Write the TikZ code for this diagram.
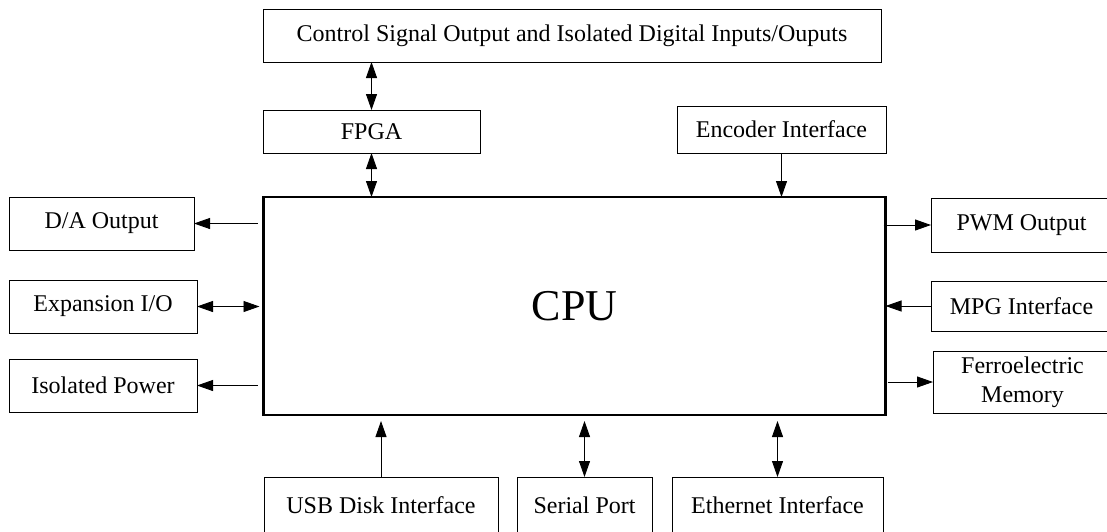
\documentclass[tikz,border=0pt]{standalone}
\usepackage{fontspec}
\setmainfont{Liberation Serif}
\usetikzlibrary{arrows.meta}
\begin{document}
\begin{tikzpicture}[x=1pt,y=-1pt,
  box/.style={draw, line width=1pt, rectangle, inner sep=0pt, outer sep=0pt,
    font=\fontsize{24}{29}\selectfont, align=center},
  cpubox/.style={draw, line width=2.6pt, rectangle, inner sep=0pt, outer sep=0pt,
    font=\fontsize{44}{48}\selectfont},
  conn/.style={line width=0.9pt},
  one/.style={conn, -{Triangle[length=16pt,width=11pt]}},
  both/.style={conn, {Triangle[length=16pt,width=11pt]}-{Triangle[length=16pt,width=11pt]}}]
\clip (0,0) rectangle (1107,531);
\useasboundingbox (0,0) rectangle (1107,531);
% boxes
\node[box, minimum width=618pt, minimum height=53pt] (top) at (572,35.5) {Control Signal Output and Isolated Digital Inputs/Ouputs};
\node[box, minimum width=217pt, minimum height=43pt] (fpga) at (371.5,131.5) {FPGA};
\node[box, minimum width=209pt, minimum height=47pt] (enc) at (781.5,129.5) {Encoder Interface};
\node[cpubox, minimum width=622pt, minimum height=218pt] (cpu) at (574.5,306) {CPU};
\node[box, minimum width=185pt, minimum height=53pt] (da) at (101.5,223.5) {D/A Output};
\node[box, minimum width=188pt, minimum height=53pt] (exp) at (103,306.5) {Expansion I/O};
\node[box, minimum width=188pt, minimum height=53pt] (iso) at (103,385.5) {Isolated Power};
\node[box, minimum width=181pt, minimum height=54pt] (pwm) at (1021.5,225) {PWM Output};
\node[box, minimum width=181pt, minimum height=50pt] (mpg) at (1021.5,306) {MPG Interface};
\node[box, minimum width=179pt, minimum height=62pt] (ferro) at (1022.5,382) {Ferroelectric\\Memory};
\node[box, minimum width=234pt, minimum height=56pt] (usb) at (381,505) {USB Disk Interface};
\node[box, minimum width=135pt, minimum height=56pt] (serial) at (584.5,505) {Serial Port};
\node[box, minimum width=211pt, minimum height=56pt] (eth) at (777.5,505) {Ethernet Interface};
% connectors
\draw[both] (fpga.north) -- (fpga.north |- top.south);
\draw[both] (fpga.south) -- (fpga.south |- cpu.north);
\draw[one] (enc.south) -- (enc.south |- cpu.north);
\draw[one] ([xshift=-6pt]cpu.west |- da.east) -- (da.east);
\draw[both] (exp.east) -- ([xshift=-4pt]cpu.west |- exp.east);
\draw[one] ([xshift=-6pt]cpu.west |- iso.east) -- (iso.east);
\draw[one] ([xshift=-2pt]cpu.east |- pwm.west) -- (pwm.west);
\draw[one] (mpg.west) -- (cpu.east |- mpg.west);
\draw[one] ([xshift=2pt]cpu.east |- ferro.west) -- (ferro.west);
\draw[one] (usb.north) -- ([yshift=-6pt]usb.north |- cpu.south);
\draw[both] (serial.north) -- ([yshift=-6pt]serial.north |- cpu.south);
\draw[both] (eth.north) -- ([yshift=-6pt]eth.north |- cpu.south);
\end{tikzpicture}
\end{document}
